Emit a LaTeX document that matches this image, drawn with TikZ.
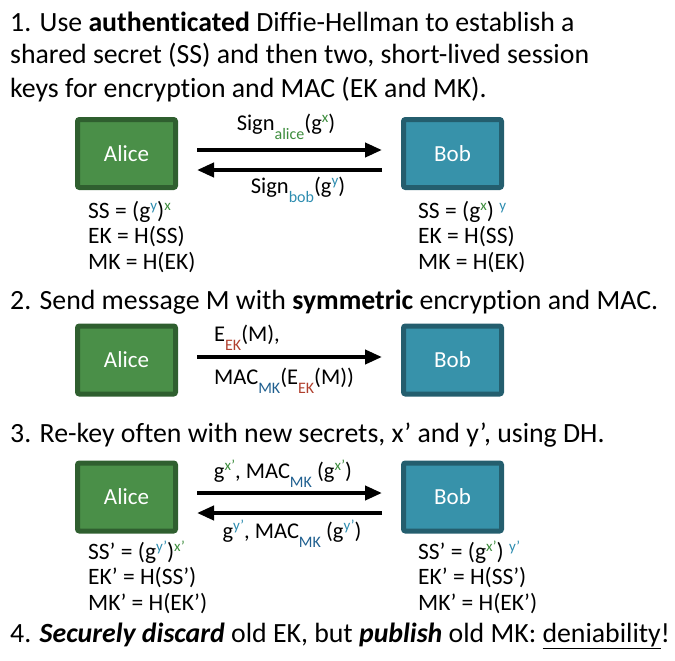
\documentclass[tikz,border=0pt]{standalone}
\usepackage{fontspec}
\setmainfont{Carlito}[Ligatures=NoCommon]
\usetikzlibrary{arrows.meta}

\definecolor{alicefill}{HTML}{4A8F48}
\definecolor{aliceline}{HTML}{2F5F2F}
\definecolor{bobfill}{HTML}{3792AA}
\definecolor{bobline}{HTML}{245E6E}
\definecolor{xcol}{HTML}{3C8C3C}
\definecolor{ycol}{HTML}{2E8DB0}
\definecolor{ekcol}{HTML}{B0402E}
\definecolor{mkcol}{HTML}{1F5F8F}

% small raised / lowered coloured text
\newcommand{\up}[2]{\raisebox{0.32em}{\fontsize{15}{15}\selectfont\color{#1}#2}}
\newcommand{\dn}[2]{\raisebox{-0.42em}{\fontsize{16}{16}\selectfont\color{#1}#2}}

\begin{document}
\begin{tikzpicture}[x=1pt, y=-1pt,
  head/.style={anchor=base west, inner sep=0pt, align=left, font=\fontsize{27.8}{33}\selectfont},
  keys/.style={anchor=base west, inner sep=0pt, align=left, font=\fontsize{23.5}{25.5}\selectfont},
  lbl/.style={anchor=base, inner sep=0pt, font=\fontsize{22.5}{22.5}\selectfont},
  alicebox/.style={draw=aliceline, fill=alicefill, line width=5pt, rounded corners=2pt,
    minimum width=98pt, minimum height=68pt, text=white, font=\fontsize{23}{23}\selectfont},
  bobbox/.style={alicebox, draw=bobline, fill=bobfill},
  msg/.style={line width=4pt, -{Triangle[length=17pt, width=14pt]}, shorten <=19pt, shorten >=19pt}]
  \useasboundingbox (0,0) rectangle (675,661);

  % 1. authenticated DH (base = last line)
  \node[head] (h1) at (10,97) {1. Use \textbf{authenticated} Diffie-Hellman to establish a\\
    shared secret (SS) and then two, short-lived session\\
    keys for encryption and MAC (EK and MK).};
  \node[alicebox] (alice1) at (126.5,153.5) {Alice};
  \node[bobbox] (bob1) at (452.5,153.5) {Bob};
  \draw[msg] ([yshift=3.5pt]alice1.east) -- ([yshift=3.5pt]bob1.west);
  \draw[msg] ([yshift=-16.5pt]bob1.west) -- ([yshift=-16.5pt]alice1.east);
  \node[lbl] (s1) at (286,130) {Sign\dn{xcol}{alice}(g\up{xcol}{x})};
  \node[lbl] (s2) at (298,193) {Sign\dn{ycol}{bob}(g\up{ycol}{y})};
  \node[keys] (k1) at (88,269) {SS = (g\up{ycol}{y})\up{xcol}{x}\\ EK = H(SS)\\ MK = H(EK)};
  \node[keys] (k2) at (418,269) {SS = (g\up{xcol}{x}) \up{ycol}{y}\\ EK = H(SS)\\ MK = H(EK)};

  % 2. symmetric encryption
  \node[head] (h2) at (10,309) {2. Send message M with \textbf{symmetric} encryption and MAC.};
  \node[alicebox] (alice2) at (126.5,360) {Alice};
  \node[bobbox] (bob2) at (452.5,360) {Bob};
  \draw[msg] ([yshift=3pt]alice2.east) -- ([yshift=3pt]bob2.west);
  \node[lbl, anchor=base west] (m1) at (214,341) {E\dn{ekcol}{EK}(M),};
  \node[lbl, anchor=base west] (m2) at (214,384) {MAC\dn{mkcol}{MK}(E\dn{ekcol}{EK}(M))};

  % 3. re-key
  \node[head] (h3) at (10,442) {3. Re-key often with new secrets, x’ and y’, using DH.};
  \node[alicebox] (alice3) at (126.5,497) {Alice};
  \node[bobbox] (bob3) at (452.5,497) {Bob};
  \draw[msg] ([yshift=4pt]alice3.east) -- ([yshift=4pt]bob3.west);
  \draw[msg] ([yshift=-16pt]bob3.west) -- ([yshift=-16pt]alice3.east);
  \node[lbl] (r1) at (283,478) {g\up{xcol}{x’}, MAC\dn{mkcol}{MK} (g\up{xcol}{x’})};
  \node[lbl] (r2) at (292,538) {g\up{ycol}{y’}, MAC\dn{mkcol}{MK} (g\up{ycol}{y’})};
  \node[keys] (k3) at (88,610) {SS’ = (g\up{ycol}{y’})\up{xcol}{x’}\\ EK’ = H(SS’)\\ MK’ = H(EK’)};
  \node[keys] (k4) at (418,610) {SS’ = (g\up{xcol}{x’}) \up{ycol}{y’}\\ EK’ = H(SS’)\\ MK’ = H(EK’)};

  % 4. deniability
  \node[head] (h4) at (10,642) {4. \textbf{\textit{Securely discard}} old EK, but \textbf{\textit{publish}} old MK: \underline{deniability}!};
\end{tikzpicture}
\end{document}
